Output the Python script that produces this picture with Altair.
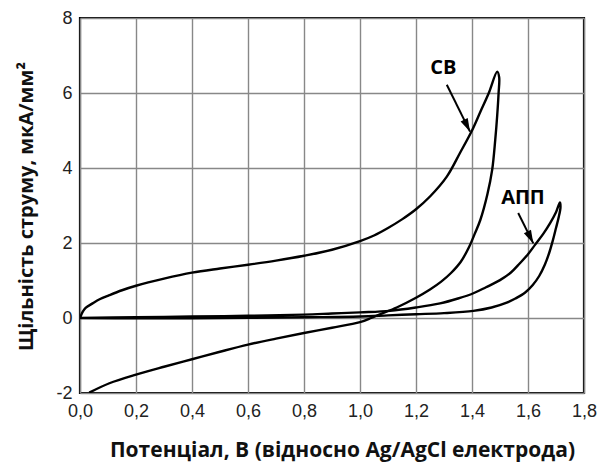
import altair as alt
import pandas as pd
import numpy as np

# ---- data ----
cb_x = [0.0, 0.01, 0.02, 0.045, 0.07, 0.105, 0.15, 0.2, 0.3, 0.4, 0.5, 0.6, 0.7, 0.8, 0.9, 1.0,
        1.05, 1.1, 1.15, 1.2, 1.25, 1.31, 1.357, 1.4, 1.43, 1.46, 1.49,
        1.497, 1.495, 1.49, 1.483, 1.472, 1.455, 1.43, 1.41, 1.39, 1.36, 1.325, 1.29, 1.25, 1.2,
        1.131, 1.071, 1.04, 1.0, 0.9, 0.8, 0.7, 0.6, 0.5, 0.4, 0.3, 0.2, 0.105, 0.033]
cb_y = [0.0, 0.17, 0.27, 0.39, 0.5, 0.61, 0.74, 0.86, 1.05, 1.21, 1.32, 1.42, 1.53, 1.66, 1.82, 2.05,
        2.2, 2.4, 2.63, 2.9, 3.24, 3.77, 4.4, 5.0, 5.5, 6.0, 6.57,
        6.42, 6.0, 5.4, 4.75, 3.95, 3.3, 2.62, 2.25, 1.9, 1.5, 1.2, 0.97, 0.76, 0.54,
        0.28, 0.1, 0.0, -0.11, -0.26, -0.40, -0.55, -0.71, -0.9, -1.1, -1.3, -1.51, -1.74, -1.99]

app_x = [0.0, 0.2, 0.4, 0.6, 0.8, 0.9, 1.0, 1.107, 1.2, 1.286, 1.35, 1.405, 1.45, 1.5, 1.54,
         1.571, 1.6, 1.625, 1.655, 1.679, 1.70, 1.714,
         1.716, 1.71, 1.70, 1.688, 1.675, 1.66, 1.64, 1.617, 1.59, 1.555, 1.524, 1.47, 1.405,
         1.3, 1.2, 1.1, 1.0, 0.8, 0.5, 0.2, 0.0]
app_y = [0.0, 0.02, 0.04, 0.06, 0.09, 0.12, 0.15, 0.19, 0.28, 0.39, 0.52, 0.66, 0.82, 1.01, 1.22,
         1.46, 1.7, 1.95, 2.25, 2.53, 2.82, 3.08,
         2.95, 2.7, 2.4, 2.05, 1.72, 1.42, 1.12, 0.88, 0.68, 0.52, 0.41, 0.28, 0.19,
         0.13, 0.1, 0.07, 0.04, 0.02, 0.0, -0.01, 0.0]

x_ticks = [0.0, 0.2, 0.4, 0.6, 0.8, 1.0, 1.2, 1.4, 1.6, 1.8]
y_ticks = [-2, 0, 2, 4, 6, 8]

label_text = ["СВ", "АПП"]
label_x = [1.298, 1.582]
label_y = [6.67, 3.19]
arrow_x = [1.31, 1.565]
arrow_y = [6.22, 2.80]
arrow_x2 = [1.393, 1.619]
arrow_y2 = [4.97, 1.99]

# ---- layout ----
W, H = 504, 375
X_DOM = [0, 1.8]
Y_DOM = [-2, 8]

rows = []
for name, xs, ys in [("СВ", cb_x, cb_y), ("АПП", app_x, app_y)]:
    for i, (a, b) in enumerate(zip(xs, ys)):
        rows.append({"series": name, "i": i, "x": a, "y": b})
curves = pd.DataFrame(rows)

px_x = W / (X_DOM[1] - X_DOM[0])
px_y = H / (Y_DOM[1] - Y_DOM[0])
angles = []
for a, b, a2, b2 in zip(arrow_x, arrow_y, arrow_x2, arrow_y2):
    dx = (a2 - a) * px_x
    dy = -(b2 - b) * px_y
    angles.append(float(np.degrees(np.arctan2(dx, -dy))) % 360)

arrows = pd.DataFrame({"x": arrow_x, "y": arrow_y, "x2": arrow_x2, "y2": arrow_y2, "angle": angles})
labels = pd.DataFrame({"text": label_text, "x": label_x, "y": label_y})

xscale = alt.Scale(domain=X_DOM, nice=False, zero=False)
yscale = alt.Scale(domain=Y_DOM, nice=False, zero=False)

xaxis = alt.Axis(
    values=x_ticks,
    labelExpr="replace(format(datum.value, '.1f'), '.', ',')",
    title="Потенціал, В (відносно Ag/AgCl електрода)",
    titleX=262, titleY=63, titleAlign="center", titleBaseline="alphabetic",
    titleFontSize=21,
    labelPadding=9, labelFlush=False,
)
yaxis = alt.Axis(
    values=y_ticks,
    labelExpr="toString(datum.value)",
    title="Щільність струму, мкА/мм²",
    titleX=-48, titleY=188, titleAngle=270, titleAlign="center", titleBaseline="alphabetic",
    titleFontSize=20,
    labelPadding=8, labelFlush=False,
)

lines = alt.Chart(curves).mark_line(
    color="black", strokeWidth=2.4, clip=True, interpolate="catmull-rom"
).encode(
    x=alt.X("x:Q", scale=xscale, axis=xaxis),
    y=alt.Y("y:Q", scale=yscale, axis=yaxis),
    detail="series:N",
    order="i:Q",
)

shafts = alt.Chart(arrows).mark_rule(color="black", strokeWidth=2).encode(
    x=alt.X("x:Q", scale=xscale), y=alt.Y("y:Q", scale=yscale),
    x2="x2:Q", y2="y2:Q",
)

heads = alt.Chart(arrows).mark_point(
    shape="M0,0 L-0.3,1 L0.3,1 Z", filled=True, color="black", opacity=1, size=700, strokeWidth=0
).encode(
    x=alt.X("x2:Q", scale=xscale), y=alt.Y("y2:Q", scale=yscale),
    angle=alt.Angle("angle:Q", scale=None),
)

texts = alt.Chart(labels).mark_text(
    font="Open Sans", fontWeight="bold", fontSize=20, color="black", align="center", baseline="middle"
).encode(
    x=alt.X("x:Q", scale=xscale), y=alt.Y("y:Q", scale=yscale), text="text:N",
)

chart = alt.layer(lines, shafts, heads, texts).properties(
    width=W, height=H,
    padding={"left": 80, "top": 18, "right": 14, "bottom": 69},
    autosize=alt.AutoSizeParams(type="none"),
    background="white",
).configure_view(
    stroke="black", strokeWidth=2.2,
).configure_axis(
    grid=True, gridColor="#888888", gridWidth=1.4, gridOpacity=1,
    domain=False, ticks=False, tickSize=0,
    labelFont="Liberation Sans", labelFontSize=18, labelColor="#222222",
    titleFont="Open Sans", titleFontWeight="bold", titleColor="#111111",
)

chart.save("out.html", embed_options={"renderer": "svg", "actions": False})
